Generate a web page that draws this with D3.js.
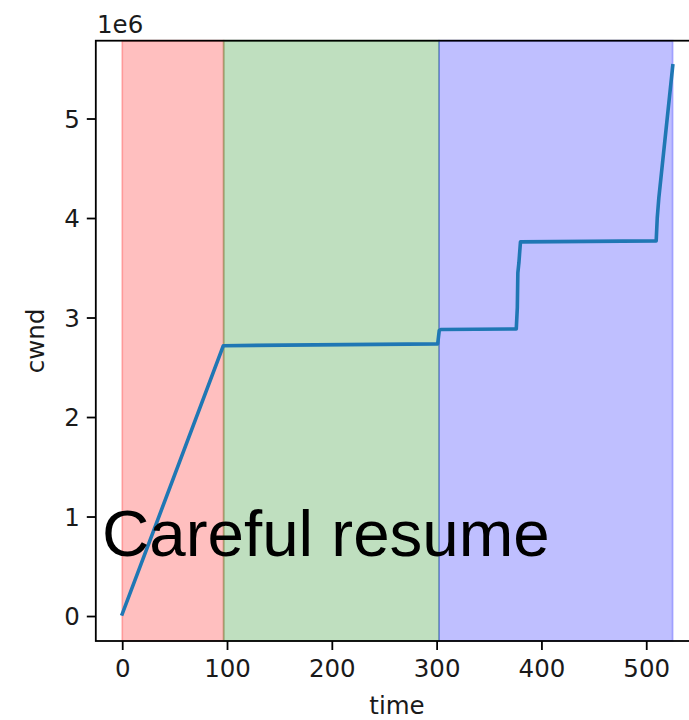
<!DOCTYPE html>
<html>
<head>
<meta charset="utf-8">
<script src="https://cdn.jsdelivr.net/npm/d3@7"></script>
<style>
  body { margin: 0; background: #fff; }
  svg { display: block; }
</style>
</head>
<body>
<svg id="chart" width="689" height="720"></svg>
<script>
// cwnd trace, values in units of 1e6
const times = [0, 96.5, 301, 302.5, 304, 376, 377, 377.5, 378.5, 380, 509.5, 510.5, 512, 525.3];
const cwnd  = [0.02, 2.717, 2.735, 2.87, 2.88, 2.885, 3.1, 3.45, 3.55, 3.76, 3.77, 4.0, 4.2, 5.53];

// phases shaded behind the trace
const phaseStart = [0, 96.8, 302.3];
const phaseEnd   = [96.8, 302.3, 525.2];
const phaseColor = ["red", "green", "blue"];

const xTicks = [0, 100, 200, 300, 400, 500];
const yTicks = [0, 1, 2, 3, 4, 5];

const svg = d3.select("#chart");

// axes box in pixels
const boxLeft = 95.8, boxRight = 700, boxTop = 40.7, boxBottom = 641;

const x = d3.scaleLinear().domain([-25.2, 551.3]).range([boxLeft, boxRight]);
const y = d3.scaleLinear().domain([-0.251, 5.782]).range([boxBottom, boxTop]);

// Shaded phases (axvspan-like)
svg.append("g")
   .selectAll("rect")
   .data(phaseStart.map((s, i) => ({ s: s, e: phaseEnd[i], c: phaseColor[i] })))
   .join("rect")
   .attr("x", d => x(d.s))
   .attr("y", boxTop)
   .attr("width", d => x(d.e) - x(d.s))
   .attr("height", boxBottom - boxTop)
   .attr("fill", d => d.c)
   .attr("fill-opacity", 0.25)
   .attr("stroke", d => d.c)
   .attr("stroke-opacity", 0.25)
   .attr("stroke-width", 1.8);

// The cwnd line
const line = d3.line()
               .x((d, i) => x(times[i]))
               .y(d => y(d));

svg.append("path")
   .datum(cwnd)
   .attr("d", line)
   .attr("fill", "none")
   .attr("stroke", "#1f77b4")
   .attr("stroke-width", 3.6)
   .attr("stroke-linejoin", "round")
   .attr("stroke-linecap", "square");

// Axes
const xAxis = d3.axisBottom(x)
                .tickValues(xTicks)
                .tickSize(9)
                .tickPadding(8)
                .tickFormat(d3.format("d"));

const yAxis = d3.axisLeft(y)
                .tickValues(yTicks)
                .tickSize(9)
                .tickPadding(7)
                .tickFormat(d3.format("d"));

const gx = svg.append("g")
              .attr("transform", "translate(0," + boxBottom + ")")
              .call(xAxis);
const gy = svg.append("g")
              .attr("transform", "translate(" + boxLeft + ",0)")
              .call(yAxis);

[gx, gy].forEach(g => {
    g.select(".domain").remove();
    g.selectAll(".tick line").attr("stroke", "#000").attr("stroke-width", 1.8);
    g.selectAll(".tick text")
     .attr("fill", "#1a1a1a")
     .style("font-family", "DejaVu Sans")
     .style("font-size", "24.5px");
});
gy.selectAll(".tick text").attr("dy", "0.36em");
gx.selectAll(".tick text").attr("dy", "0.76em");

// Frame
svg.append("rect")
   .attr("x", boxLeft)
   .attr("y", boxTop)
   .attr("width", boxRight - boxLeft)
   .attr("height", boxBottom - boxTop)
   .attr("fill", "none")
   .attr("stroke", "#000")
   .attr("stroke-width", 1.8);

// Labels
svg.append("text")
   .attr("x", 397)
   .attr("y", 714)
   .attr("text-anchor", "middle")
   .style("font-family", "DejaVu Sans")
   .style("font-size", "24.5px")
   .attr("fill", "#1a1a1a")
   .text("time");

svg.append("text")
   .attr("transform", "translate(44," + ((boxTop + boxBottom) / 2) + ") rotate(-90)")
   .attr("text-anchor", "middle")
   .style("font-family", "DejaVu Sans")
   .style("font-size", "24.5px")
   .attr("fill", "#1a1a1a")
   .text("cwnd");

svg.append("text")
   .attr("x", 97)
   .attr("y", 32.5)
   .style("font-family", "DejaVu Sans")
   .style("font-size", "24.5px")
   .attr("fill", "#1a1a1a")
   .text("1e6");

// Big annotation
svg.append("text")
   .attr("x", 102)
   .attr("y", 556)
   .style("font-family", "Liberation Sans, Arial, sans-serif")
   .style("font-size", "65.5px")
   .attr("fill", "#000")
   .text("Careful resume");
</script>
</body>
</html>
